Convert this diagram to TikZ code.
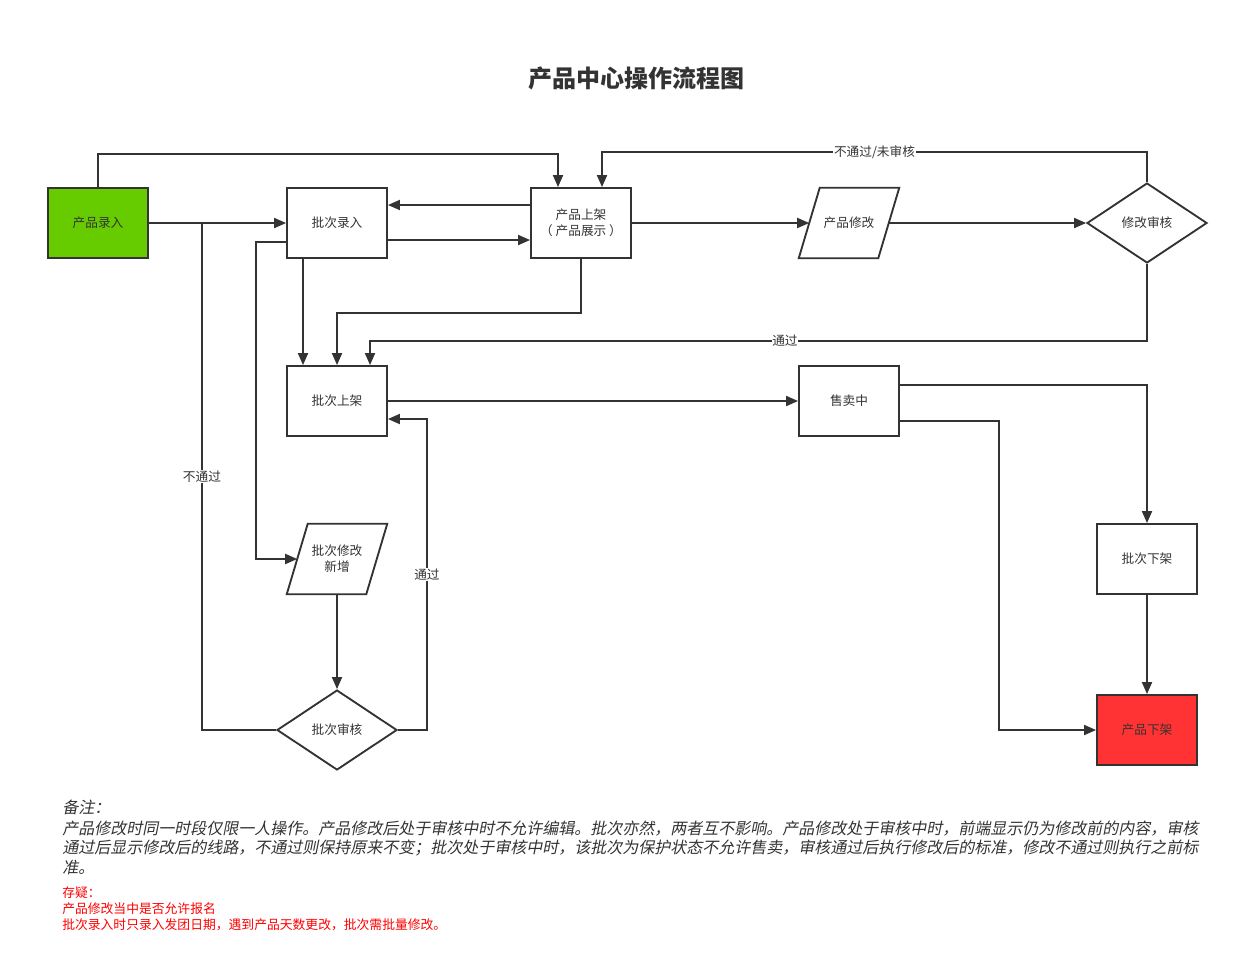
\documentclass[tikz,border=0pt]{standalone}
\usepackage{fontspec}
\setmainfont{Noto Sans CJK SC}
\newfontfamily\notefont[FakeSlant=0.2]{Noto Sans CJK SC}
\usetikzlibrary{arrows.meta,shapes.geometric,calc}
\definecolor{linegray}{HTML}{333333}
\definecolor{startgreen}{HTML}{66CC00}
\definecolor{endred}{HTML}{FF3333}
\definecolor{notered}{HTML}{FF0000}
\tikzset{
	box/.style={draw=linegray, line width=1.4pt, minimum width=75pt, minimum height=52.5pt, inner sep=2pt, align=center},
	para/.style={minimum width=75pt, minimum height=52.5pt, inner sep=1pt, align=center},
	decision/.style={draw=linegray, line width=1.4pt, diamond, aspect=1.5, minimum width=90pt, minimum height=60pt, inner sep=0pt},
	arr/.style={draw=linegray, line width=1.4pt, -{Triangle[length=9pt,width=7.5pt]}},
	plain/.style={draw=linegray, line width=1.4pt},
	lbl/.style={fill=white, inner sep=0.5pt, text=linegray},
}
% slanted outline round a para node
\newcommand{\paraoutline}[1]{%
	\draw[plain, line join=miter] (#1.south west) -- ($(#1.north west)+(21,0)$) -- (#1.north east) -- ($(#1.south east)+(-21,0)$) -- cycle;}
\begin{document}
\begin{tikzpicture}[x=0.75pt, y=-0.75pt, font=\fontsize{9.5}{12}\selectfont, text=linegray]
	\useasboundingbox (0,0) rectangle (1243,964);
	% title
	\node[font=\fontsize{18}{22}\selectfont\bfseries] (title) at (636,78) {产品中心操作流程图};
	% first row
	\node[box, fill=startgreen] (prodin) at (98,223) {产品录入};
	\node[box] (batchin) at (337,223) {批次录入};
	\node[box] (prodon) at (581,223) {产品上架\\（ 产品展示 ）};
	\node[para] (prodmod) at (849,223) {产品修改};
	\paraoutline{prodmod}
	\node[decision] (modcheck) at (1147,223) {修改审核};
	% middle
	\node[box] (batchon) at (337,401) {批次上架};
	\node[box] (selling) at (849,401) {售卖中};
	\node[para] (batchmod) at (337,559) {批次修改\\新增};
	\paraoutline{batchmod}
	\node[decision] (batchcheck) at (337,730) {批次审核};
	\node[box] (batchoff) at (1147,559) {批次下架};
	\node[box, fill=endred] (prodoff) at (1147,730) {产品下架};
	% connectors
	\draw[arr] (prodin.north) -- ++(0,-33) -| ($(prodon.north)+(-23,0)$);
	\draw[arr] (prodin) -- (batchin);
	\draw[arr] ($(prodon.west)+(0,-18)$) -- ($(batchin.east)+(0,-18)$);
	\draw[arr] ($(batchin.east)+(0,17)$) -- ($(prodon.west)+(0,17)$);
	\draw[arr] (prodon.east) -- ($(prodmod.west)+(10.5,0)$);
	\draw[arr] ($(prodmod.east)+(-10.5,0)$) -- (modcheck.west);
	\draw[arr] (modcheck.north) -- ++(0,-30) -| node[lbl, pos=0.25] {不通过/未审核} ($(prodon.north)+(21,0)$);
	\draw[arr] (modcheck.south) -- ++(0,77) -| node[lbl, pos=0.233] {通过} ($(batchon.north)+(33,0)$);
	\draw[arr] (prodon.south) -- ++(0,54) -| (batchon.north);
	\draw[arr] ($(batchin.south)+(-34,0)$) -- ($(batchon.north)+(-34,0)$);
	\draw[arr] ($(batchin.west)+(0,19)$) -- ++(-30,0) |- ($(batchmod.west)+(10.5,0)$);
	\draw[arr] (batchmod.south) -- (batchcheck.north);
	\draw[plain] (batchcheck.west) -| node[lbl, pos=0.75] {不通过} ($(prodin.east)+(53,0)$);
	\draw[arr] (batchcheck.east) -- ++(29,0) |- node[lbl, pos=0.25] {通过} ($(batchon.east)+(0,18)$);
	\draw[arr] (batchon) -- (selling);
	\draw[arr] ($(selling.east)+(0,-16)$) -| (batchoff);
	\draw[arr] ($(selling.east)+(0,20)$) -- ++(99,0) |- (prodoff);
	\draw[arr] (batchoff) -- (prodoff);
	% notes
	\begin{scope}[every node/.style={anchor=base west, inner sep=0pt, font=\notefont\fontsize{12}{14}\selectfont}]
		\node (note0) at (62,813) {备注：};
		\node (note1) at (62,834) {产品修改时同一时段仅限一人操作。产品修改后处于审核中时不允许编辑。批次亦然，两者互不影响。产品修改处于审核中时，前端显示仍为修改前的内容，审核};
		\node (note2) at (62,853) {通过后显示修改后的线路，不通过则保持原来不变；批次处于审核中时，该批次为保护状态不允许售卖，审核通过后执行修改后的标准，修改不通过则执行之前标};
		\node (note3) at (62,873) {准。};
	\end{scope}
	\begin{scope}[every node/.style={anchor=base west, inner sep=0pt, text=notered, font=\fontsize{9.6}{12}\selectfont}]
		\node (doubt0) at (62,897) {存疑：};
		\node (doubt1) at (62,913) {产品修改当中是否允许报名};
		\node (doubt2) at (62,929) {批次录入时只录入发团日期，遇到产品天数更改，批次需批量修改。};
	\end{scope}
\end{tikzpicture}
\end{document}
